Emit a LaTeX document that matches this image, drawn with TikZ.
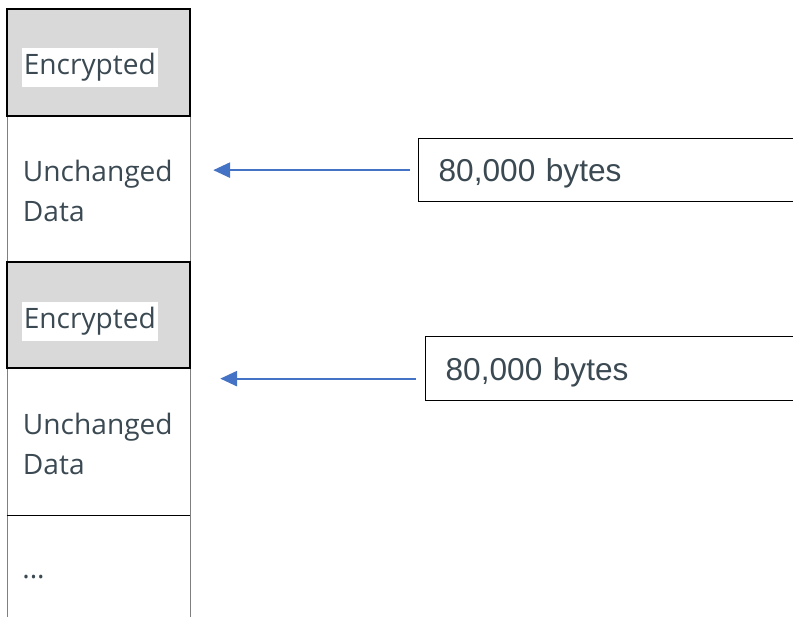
\documentclass[tikz,border=0pt]{standalone}
\usepackage{fontspec}
\newfontfamily\calfont{Open Sans}
\newfontfamily\arialfont{Liberation Sans}
\usetikzlibrary{arrows.meta}
\definecolor{txtgray}{RGB}{59,73,82}
\definecolor{cellgray}{RGB}{217,217,217}
\definecolor{arrowblue}{RGB}{68,114,196}

\begin{document}
\begin{tikzpicture}[
  enccell/.style={draw=black,line width=0.9pt,fill=cellgray,minimum width=4.575cm,inner sep=0pt},
  datacell/.style={minimum width=4.575cm,inner sep=0pt},
  celltext/.style={font=\calfont\fontsize{20}{28.5}\selectfont,text=txtgray,inner sep=0pt,align=left},
  enclabel/.style={celltext,fill=white,inner xsep=1.5pt,text height=0.55cm,text depth=0.2cm,inner ysep=3pt},
  bytebox/.style={draw=black,line width=0.9pt,anchor=north west,text width=9cm,text depth=0pt,inner xsep=0.5cm,align=left,font=\arialfont\fontsize{22.5}{27}\selectfont,text=txtgray},
  sizearrow/.style={draw=arrowblue,line width=1.4pt,-{Triangle[length=0.42cm,width=0.38cm]}}
]
\useasboundingbox (0,0) rectangle (19.825,-15.425);
\clip (0,0) rectangle (19.825,-15.425);
% column sides
\draw[gray,line width=0.6pt] (0.175,-0.225) -- (0.175,-15.425);
\draw[gray,line width=0.6pt] (4.750,-0.225) -- (4.750,-15.425);
% cells
\node[enccell,minimum height=2.675cm] (enc1) at (2.4625,-1.5625) {};
\node[datacell,minimum height=3.650cm] (dat1) at (2.4625,-4.725) {};
\node[enccell,minimum height=2.650cm] (enc2) at (2.4625,-7.875) {};
\node[datacell,minimum height=3.675cm] (dat2) at (2.4625,-11.0375) {};
\draw[line width=0.9pt] (dat2.south west) -- (dat2.south east);
% cell texts
\node[enclabel,anchor=west] (enc1txt) at ([xshift=0.375cm,yshift=-0.12cm]enc1.west) {Encrypted};
\node[celltext,anchor=west] (dat1txt) at ([xshift=0.4cm,yshift=-0.05cm]dat1.west) {Unchanged\\Data};
\node[enclabel,anchor=west] (enc2txt) at ([xshift=0.375cm,yshift=-0.16cm]enc2.west) {Encrypted};
\node[celltext,anchor=west] (dat2txt) at ([xshift=0.4cm,yshift=-0.05cm]dat2.west) {Unchanged\\Data};
\node[celltext,anchor=base west] (dots) at (0.55,-14.475) {...};
% size boxes
\node[bytebox,minimum height=1.575cm] (box1) at (10.450,-3.450) {80,000 bytes};
\node[bytebox,minimum height=1.600cm] (box2) at (10.625,-8.400) {80,000 bytes};
\coordinate (box2out) at ([yshift=-0.25cm]box2.west);
% arrows
\draw[sizearrow,shorten <=0.2cm,shorten >=0.575cm] (box1.west) -- (dat1.east |- box1.west);
\draw[sizearrow,shorten <=0.225cm,shorten >=0.75cm] (box2out) -- (dat2.east |- box2out);
\end{tikzpicture}
\end{document}
